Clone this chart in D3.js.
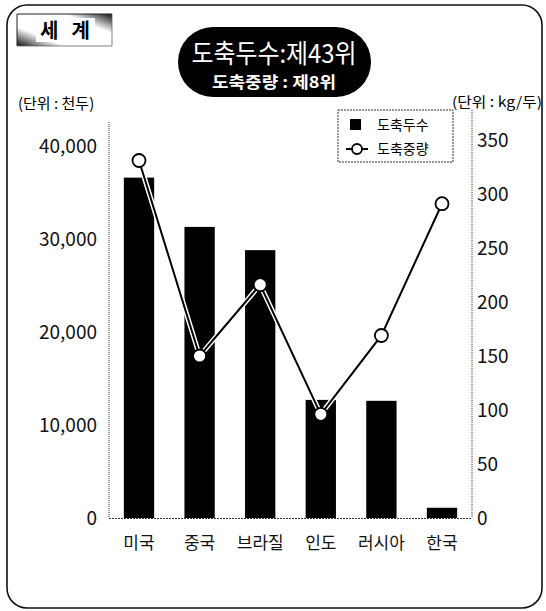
<!DOCTYPE html>
<html><head><meta charset="utf-8">
<script src="https://cdn.jsdelivr.net/npm/d3@7"></script>
<style>body{margin:0;background:#fff}svg{display:block}text{font-family:"Noto Sans CJK KR","Noto Sans",sans-serif}</style>
</head><body><svg id="c" width="546" height="611"></svg>
<script>
const categories = ["미국","중국","브라질","인도","러시아","한국"];
const headCount = [36600, 31300, 28800, 12700, 12600, 1100];      // 천두
const slaughterWeight = [331, 150, 216, 96, 169, 291];            // kg/두
const leftTicks = [0, 10000, 20000, 30000, 40000];
const rightTicks = [0, 50, 100, 150, 200, 250, 300, 350];
const seriesNames = ["도축두수", "도축중량"];
const titleMain = "도축두수:제43위";
const titleSub = "도축중량 : 제8위";
const sectionLabel = "세 계";
const leftUnit = "(단위 : 천두)";
const rightUnit = "(단위 : kg/두)";

const svg = d3.select("#c");
const fontK = '"Noto Sans CJK KR", sans-serif';
const fontN = '"Liberation Sans Narrow","Roboto Condensed","Liberation Sans",Arial,sans-serif';

// outer frame
svg.append("rect").attr("x",7).attr("y",5).attr("width",535).attr("height",603)
  .attr("rx",20).attr("fill","none").attr("stroke","#111").attr("stroke-width",1.6);

// section label with shaded box
const defs = svg.append("defs");
const g1 = defs.append("linearGradient").attr("id","gl").attr("x1","0").attr("y1","1").attr("x2","0.6").attr("y2","0");
g1.append("stop").attr("offset","0").attr("stop-color","#111");
g1.append("stop").attr("offset","0.45").attr("stop-color","#fff");
g1.append("stop").attr("offset","1").attr("stop-color","#fff");
const g2 = defs.append("linearGradient").attr("id","gr").attr("x1","1").attr("y1","0").attr("x2","0.4").attr("y2","1");
g2.append("stop").attr("offset","0").attr("stop-color","#111");
g2.append("stop").attr("offset","0.45").attr("stop-color","#fff");
g2.append("stop").attr("offset","1").attr("stop-color","#fff");
svg.append("rect").attr("x",17).attr("y",14).attr("width",47).attr("height",32).attr("fill","url(#gl)");
svg.append("rect").attr("x",64).attr("y",14).attr("width",48).attr("height",32).attr("fill","url(#gr)");
svg.append("path").attr("d","M17,46 V14 H112").attr("fill","none").attr("stroke","#222").attr("stroke-width",1);
svg.append("path").attr("d","M112,14 V46 H17").attr("fill","none").attr("stroke","#666").attr("stroke-width",0.8);
svg.append("rect").attr("x",36).attr("y",18).attr("width",59).attr("height",24).attr("fill","#fff");
svg.append("text").attr("x",65).attr("y",38).attr("text-anchor","middle")
  .attr("font-family",fontK).attr("font-weight","bold").attr("font-size",20)
  .attr("textLength",50).attr("lengthAdjust","spacing").text(sectionLabel);

// title pill
svg.append("rect").attr("x",178).attr("y",27).attr("width",193).attr("height",70).attr("rx",35).attr("fill","#000");
svg.append("text").attr("x",274).attr("y",63).attr("text-anchor","middle").attr("fill","#fff")
  .attr("font-family",fontK).attr("font-size",26).attr("textLength",165).attr("lengthAdjust","spacingAndGlyphs").text(titleMain);
svg.append("text").attr("x",274).attr("y",88).attr("text-anchor","middle").attr("fill","#fff")
  .attr("font-family",fontK).attr("font-size",16).attr("font-weight","bold")
  .attr("textLength",124).attr("lengthAdjust","spacingAndGlyphs").text(titleSub);

// units
svg.append("text").attr("x",18).attr("y",109).attr("font-family",fontK).attr("font-size",15).text(leftUnit);
svg.append("text").attr("x",452).attr("y",107).attr("font-family",fontK).attr("font-size",14)
  .attr("textLength",90).attr("lengthAdjust","spacingAndGlyphs").text(rightUnit);

// scales
const x0 = 109, x1 = 472, yBase = 518;
const x = d3.scaleBand().domain(categories).range([x0, x1]).paddingInner(0.5).paddingOuter(0.245);
const yL = d3.scaleLinear().domain([0, 40000]).range([yBase, yBase - 4*93]);
const yR = d3.scaleLinear().domain([0, 350]).range([yBase, yBase - 378]);

// axis lines (dotted)
svg.append("line").attr("x1",x0).attr("x2",x0).attr("y1",122).attr("y2",yBase)
  .attr("stroke","#333").attr("stroke-dasharray","1,1");
svg.append("line").attr("x1",x1).attr("x2",x1).attr("y1",110).attr("y2",yBase)
  .attr("stroke","#333").attr("stroke-dasharray","1,1");
svg.append("line").attr("x1",x0).attr("x2",x1).attr("y1",yBase+0.5).attr("y2",yBase+0.5)
  .attr("stroke","#333").attr("stroke-dasharray","2,1");

// left axis labels
const axL = d3.axisLeft(yL).tickValues(leftTicks).tickSize(0).tickPadding(12).tickFormat(d3.format(","));
const gL = svg.append("g").attr("transform",`translate(${x0},0)`).call(axL);
gL.select(".domain").remove();
gL.selectAll("text").attr("font-family",fontN).attr("font-size",19).attr("fill","#111");

const axR = d3.axisRight(yR).tickValues(rightTicks).tickSize(0).tickPadding(5);
const gR = svg.append("g").attr("transform",`translate(${x1},0)`).call(axR);
gR.select(".domain").remove();
gR.selectAll("text").attr("font-family",fontN).attr("font-size",19).attr("fill","#111");

// category axis
const axB = d3.axisBottom(x).tickSize(0).tickPadding(19);
const gB = svg.append("g").attr("transform",`translate(0,${yBase})`).call(axB);
gB.select(".domain").remove();
gB.selectAll("text").attr("font-family",fontK).attr("font-size",17).attr("fill","#111");

// bars
svg.append("g").selectAll("rect").data(categories).join("rect")
  .attr("x", d => x(d)).attr("width", x.bandwidth())
  .attr("y", (d,i) => yL(headCount[i])).attr("height", (d,i) => yBase - yL(headCount[i]))
  .attr("fill","#000");

// line with white casing
const line = d3.line().x((d,i) => x(categories[i]) + x.bandwidth()/2).y(d => yR(d));
svg.append("path").datum(slaughterWeight).attr("d", line).attr("fill","none")
  .attr("stroke","#fff").attr("stroke-width",5);
svg.append("path").datum(slaughterWeight).attr("d", line).attr("fill","none")
  .attr("stroke","#000").attr("stroke-width",2);
svg.append("g").selectAll("circle").data(slaughterWeight).join("circle")
  .attr("cx",(d,i) => x(categories[i]) + x.bandwidth()/2).attr("cy", d => yR(d))
  .attr("r",6.5).attr("fill","#fff").attr("stroke","#000").attr("stroke-width",1.8);

// legend
const lg = svg.append("g");
lg.append("rect").attr("x",338).attr("y",110).attr("width",115).attr("height",52)
  .attr("fill","#fff").attr("stroke","#333").attr("stroke-dasharray","2,1");
lg.append("rect").attr("x",350).attr("y",119).attr("width",11).attr("height",11).attr("fill","#000");
lg.append("text").attr("x",377).attr("y",130).attr("font-family",fontK).attr("font-size",14).text(seriesNames[0]);
lg.append("line").attr("x1",346).attr("x2",368).attr("y1",149).attr("y2",149).attr("stroke","#000").attr("stroke-width",2);
lg.append("circle").attr("cx",357).attr("cy",149).attr("r",5).attr("fill","#fff").attr("stroke","#000").attr("stroke-width",1.8);
lg.append("text").attr("x",377).attr("y",154).attr("font-family",fontK).attr("font-size",14).text(seriesNames[1]);
</script></body></html>
